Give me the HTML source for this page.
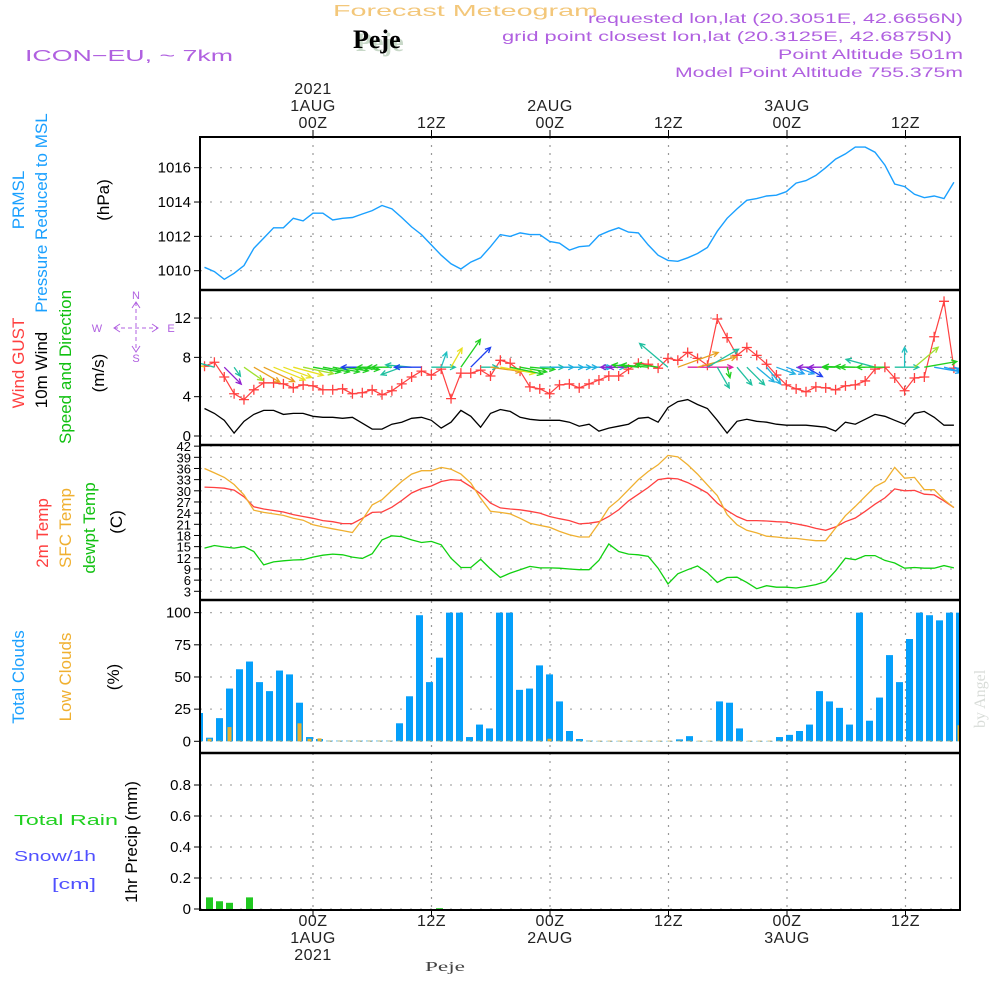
<!DOCTYPE html>
<html><head><meta charset="utf-8"><title>Forecast Meteogram Peje</title>
<style>
html,body{margin:0;padding:0;background:#fff;}
svg{display:block;}
text{font-family:"Liberation Sans",sans-serif;}
.nar{font-family:"Liberation Sans Narrow","Liberation Sans",sans-serif;}
</style></head>
<body>
<svg id="chart" width="1000" height="1000" viewBox="0 0 1000 1000" xmlns="http://www.w3.org/2000/svg">
<rect x="0" y="0" width="1000" height="1000" fill="#fff"/>
<!-- header -->
<text x="333" y="16" font-size="16" fill="#f3c77a" textLength="265" lengthAdjust="spacingAndGlyphs">Forecast Meteogram</text>
<text x="356" y="51" font-size="26" font-weight="bold" fill="#c8d8c8" style="font-family:'Liberation Serif',serif">Peje</text>
<text x="353" y="48" font-size="26" font-weight="bold" fill="#000" style="font-family:'Liberation Serif',serif">Peje</text>
<text x="25" y="61" font-size="16" fill="#b060e0" textLength="208" lengthAdjust="spacingAndGlyphs">ICON−EU, ~ 7km</text>
<text x="588" y="23" font-size="14" fill="#b060e0" textLength="375" lengthAdjust="spacingAndGlyphs">requested lon,lat (20.3051E, 42.6656N)</text>
<text x="502" y="41" font-size="14" fill="#b060e0" textLength="450" lengthAdjust="spacingAndGlyphs">grid point closest lon,lat (20.3125E, 42.6875N)</text>
<text x="778" y="59" font-size="14" fill="#b060e0" textLength="185" lengthAdjust="spacingAndGlyphs">Point Altitude 501m</text>
<text x="675" y="77" font-size="14" fill="#b060e0" textLength="288" lengthAdjust="spacingAndGlyphs">Model Point Altitude 755.375m</text>
<text x="425" y="971" font-size="14" fill="#444" style="font-family:'Liberation Serif',serif" textLength="40" lengthAdjust="spacingAndGlyphs">Peje</text>
<text transform="translate(985,728) rotate(-90)" font-size="16" fill="#d8dcd8" style="font-family:'Liberation Serif',serif">by Angel</text>

<!-- left axis titles -->
<g class="nar" font-size="17">
<text transform="translate(24,200) rotate(-90)" text-anchor="middle" fill="#1aa0ff">PRMSL</text>
<text transform="translate(47,213) rotate(-90)" text-anchor="middle" fill="#1aa0ff">Pressure Reduced to MSL</text>
<text transform="translate(109,200) rotate(-90)" text-anchor="middle" fill="#000">(hPa)</text>
<text transform="translate(24,363) rotate(-90)" text-anchor="middle" fill="#ff4040">Wind GUST</text>
<text transform="translate(47,370) rotate(-90)" text-anchor="middle" fill="#000">10m Wind</text>
<text transform="translate(71,367) rotate(-90)" text-anchor="middle" fill="#10c010">Speed and Direction</text>
<text transform="translate(104,373) rotate(-90)" text-anchor="middle" fill="#000">(m/s)</text>
<text transform="translate(48,533) rotate(-90)" text-anchor="middle" fill="#ff4040">2m Temp</text>
<text transform="translate(71,528) rotate(-90)" text-anchor="middle" fill="#f0b030">SFC Temp</text>
<text transform="translate(95,528) rotate(-90)" text-anchor="middle" fill="#10c010">dewpt Temp</text>
<text transform="translate(122,522) rotate(-90)" text-anchor="middle" fill="#000">(C)</text>
<text transform="translate(24,677) rotate(-90)" text-anchor="middle" fill="#1aa0ff">Total Clouds</text>
<text transform="translate(71,677) rotate(-90)" text-anchor="middle" fill="#f0b030">Low Clouds</text>
<text transform="translate(119,677) rotate(-90)" text-anchor="middle" fill="#000">(%)</text>
<text transform="translate(137,842) rotate(-90)" text-anchor="middle" fill="#000">1hr Precip (mm)</text>
</g>
<text x="14" y="825" font-size="15" fill="#20d020" textLength="104" lengthAdjust="spacingAndGlyphs">Total   Rain</text>
<text x="14" y="861" font-size="15" fill="#5050ff" textLength="82" lengthAdjust="spacingAndGlyphs">Snow/1h</text>
<text x="52" y="889" font-size="15" fill="#5050ff" textLength="44" lengthAdjust="spacingAndGlyphs">[cm]</text>

<!-- compass -->
<g stroke="#b060e0" stroke-width="1" fill="none">
<line x1="136" y1="302" x2="136" y2="352" stroke-dasharray="4,3"/>
<line x1="114" y1="328" x2="158" y2="328" stroke-dasharray="4,3"/>
<polyline points="132,308 136,302 140,308"/>
<polyline points="132,346 136,352 140,346"/>
<polyline points="120,324 114,328 120,332"/>
<polyline points="152,324 158,328 152,332"/>
</g>
<g font-size="11" fill="#b060e0" text-anchor="middle">
<text x="136" y="299">N</text>
<text x="136" y="362">S</text>
<text x="97" y="332">W</text>
<text x="171" y="332">E</text>
</g>

<g id="grid"></g>
<g id="marks"></g>
<g id="frame"></g>
<g id="labels"></g>
</svg>
<script>
// ---------- data ----------
const hours = [];
for (let h = -11; h <= 65; h++) hours.push(h);
const timeTicks = [0, 12, 24, 36, 48, 60];
const timeTopLabels = [["2021","1AUG","00Z"],["12Z"],["2AUG","00Z"],["12Z"],["3AUG","00Z"],["12Z"]];
const timeBottomLabels = [["00Z","1AUG","2021"],["12Z"],["00Z","2AUG"],["12Z"],["00Z","3AUG"],["12Z"]];

const pressure = [1010.2,1009.95,1009.5,1009.85,1010.3,1011.3,1011.9,1012.5,1012.5,1013.05,1012.9,1013.35,1013.35,1012.95,1013.05,1013.1,1013.3,1013.5,1013.8,1013.6,1013.1,1012.55,1012.1,1011.5,1010.9,1010.4,1010.1,1010.5,1010.75,1011.4,1012.1,1012.0,1012.2,1012.1,1012.1,1011.7,1011.6,1011.2,1011.4,1011.45,
1012.05,1012.3,1012.5,1012.25,1012.2,1011.5,1010.9,1010.6,1010.55,1010.75,1011.0,1011.35,1012.3,1013.05,1013.6,1014.1,1014.2,1014.35,1014.4,1014.6,1015.1,1015.25,1015.55,1016.0,1016.5,1016.8,1017.2,1017.2,1016.9,1016.15,1015.05,1014.9,1014.45,1014.25,1014.35,1014.2,1015.15];
const pressureTicks = [1010,1012,1014,1016];

const wind10m = [2.8,2.3,1.6,0.3,1.5,2.2,2.6,2.6,2.2,2.3,2.3,2.0,1.9,1.9,1.8,1.9,1.3,0.7,0.7,1.2,1.4,1.8,1.9,1.6,0.8,1.4,2.6,2.0,0.9,2.3,2.7,2.5,1.9,1.7,1.6,1.6,1.6,1.4,1.0,1.2,
0.5,0.8,1.0,1.2,1.8,1.9,1.4,2.9,3.5,3.7,3.2,2.8,1.6,0.3,1.5,1.7,1.5,1.4,1.2,1.1,1.1,1.1,1.0,0.9,0.5,1.4,1.2,1.7,2.2,2.0,1.6,1.2,2.3,2.5,1.9,1.1,1.1];
const windGust = [7.1,7.5,6.0,4.3,3.7,4.7,5.4,5.4,5.3,4.9,5.2,5.1,4.7,4.7,4.8,4.3,4.4,4.7,4.2,4.6,5.3,6.0,6.6,6.2,6.8,3.8,6.4,6.4,6.7,6.1,7.7,7.4,6.6,5.0,4.8,4.3,5.2,5.3,4.9,5.3,
5.7,6.1,6.1,6.8,7.4,7.3,6.9,7.9,7.7,8.5,7.9,7.2,11.9,10.0,8.2,9.0,8.2,7.3,6.2,5.2,4.8,4.5,5.0,4.9,4.7,5.1,5.2,5.6,6.8,7.0,5.9,4.6,5.9,6.0,10.1,13.7,6.9];
// arrow screen direction (deg, 0 = pointing right, 90 = pointing down)
const windDir = [-160,-165,45,55,35,30,25,22,20,15,12,10,10,10,8,5,180,180,180,180,160,185,180,0,-70,-60,-55,-45,0,8,10,12,10,5,0,0,0,0,0,0,
0,0,180,180,185,185,188,-140,-20,0,-15,-30,60,75,50,45,40,50,20,20,20,30,180,180,180,182,182,180,-165,180,0,-90,-40,-10,10,15,15];
const windColor = ["#e8e020","#20c0a0","#9020d0","#20c0a0","#a0e030","#e8a020","#e8a020","#e8e020","#e8e020","#e8e020","#a0e030","#20d020","#20d020","#20d020","#20d020","#20d020","#2040f0","#20d020","#20d020","#20d020","#20c0a0","#20c0a0","#2040f0","#20c0a0","#20c0c0","#e8e020","#20d020","#2040f0","#20c0a0","#e8a020","#e8e020","#20d020","#20d020","#20d020","#20c0a0","#20b0e0","#20b0e0","#20b0e0","#20b0e0","#20b0e0",
"#20b0e0","#20b0e0","#9020d0","#9020d0","#20d020","#20d020","#20d020","#20c0a0","#e8a020","#e020a0","#e8a020","#20c0a0","#20c0a0","#20d020","#20c0a0","#20c0a0","#20b0e0","#20b0e0","#20b0e0","#20a0f0","#20a0f0","#2040f0","#9020d0","#9020d0","#20d020","#20d020","#20d020","#20d020","#20c0a0","#20d020","#20c0a0","#20c0c0","#a0e030","#20d020","#20a0f0","#20a0f0","#20a0f0"];
const windTicks = [0,4,8,12];

const temp2m = [31.0,30.9,30.7,30.2,28.4,25.7,25.1,24.7,24.3,23.6,23.1,22.6,22.0,21.7,21.2,21.2,22.6,24.2,24.3,25.6,27.4,29.4,30.6,31.3,32.5,33.0,32.8,31.1,29.2,26.7,25.4,25.1,24.9,24.5,24.0,23.1,22.5,22.0,21.1,
21.3,21.7,23.1,24.9,27.3,29.1,30.9,33.0,33.4,33.2,32.2,30.9,29.4,26.7,24.7,23.1,22.0,22.0,21.9,21.7,21.6,21.1,20.6,19.9,19.4,20.3,21.7,22.7,24.5,26.4,28.1,30.5,30.0,30.1,29.1,28.9,27.3,25.5];
const tempSfc = [36.0,34.8,33.6,31.7,28.9,24.8,24.2,23.8,23.4,22.6,22.1,20.9,20.3,19.8,19.3,18.8,22.2,26.2,27.6,30.1,32.5,34.5,35.4,35.4,36.3,35.8,34.5,32.1,28.0,24.5,24.2,23.8,22.6,21.3,20.7,20.2,19.1,18.2,17.6,
17.6,21.3,25.4,27.6,30.3,33.0,35.2,37.0,39.5,39.1,37.0,34.5,31.6,28.7,23.6,20.9,19.4,18.7,17.8,17.6,17.3,17.2,16.9,16.6,16.6,20.0,23.3,25.8,28.5,31.1,32.5,36.3,33.4,33.6,30.3,30.3,27.6,25.5];
const dewpoint = [14.6,15.3,14.9,14.6,15.0,13.7,10.1,10.9,11.2,11.4,11.5,12.2,12.7,13.0,12.8,12.2,11.8,13.1,16.8,17.9,17.7,16.8,16.1,16.4,15.5,11.9,9.4,9.4,11.6,9.0,6.7,7.9,8.8,9.7,9.3,9.3,9.2,9.0,8.8,
8.8,11.3,15.7,13.7,13.0,12.8,12.4,9.2,5.0,7.7,8.8,9.8,8.0,5.4,6.7,6.8,5.4,3.7,4.5,4.1,4.1,3.9,4.3,4.8,5.6,8.5,11.9,11.5,12.6,12.6,11.3,10.6,9.2,9.4,9.2,9.2,9.9,9.3];
const tempTicks = [3,6,9,12,15,18,21,24,27,30,33,36,39,42];

const totalClouds = [22,2.8,18,41,56,62,46,39,55,52,30,3.3,1.8,0.5,0.5,0.5,0.5,0.5,0.5,0.5,14,35,98,46,65,100,100,3.3,13,10,100,100,40,41,59,52,31,8,1.8,0.5,
0.3,0.3,0.3,0.3,0.3,0.3,0.3,0.3,1.5,4,0.3,0.3,31,30,10,0.3,0.3,0.3,3.3,5,8,13,39,31,26,13,100,16,34,67,46,79.5,100,98,94,100,100];
const lowClouds = [0,1.5,0,10.6,0,0,0,0,0,0,13.5,1.5,1.8,0,0,0,0,0,0,0,0,0,0,0,0,0,0,0,0,0,0,0,0,0,0,1.5,0,0,0,0,
0,0,0,0,0,0,0,0,0,0,0,0,0,0,0,0,0,0,0,0,0,0,0,0,0,0,0,0,0,0,0,0,0,0,0,0,12];
const cloudTicks = [0,25,50,75,100];

const precip = [0,0.075,0.05,0.04,0,0.075,0,0,0,0,0,0,0,0,0,0,0,0,0,0,0,0,0,0,0.005,0,0,0,0,0,0,0,0,0,0,0,0,0,0,0,
0,0,0,0,0,0,0,0,0,0,0,0,0,0,0,0,0,0,0,0,0,0,0,0,0,0,0,0,0,0,0,0,0,0,0,0,0];
const precipTicks = [0,0.2,0.4,0.6,0.8];
const precipTickLabels = ["0","0.2","0.4","0.6","0.8"];

// ---------- scales ----------
const X0 = 200, X1 = 960;
const panels = [[137,290],[290,445],[445,600],[600,753],[753,910]];
function xT(t){ return 313 + t*9.86; }
function xB(k){ return 199.5 + k*10; }
function yP(p){ return 270.7 - (p-1010)*17.17; }
function yW(v){ return 436 - v*9.83; }
function yT(v){ return 591.3 - (v-3)*3.722; }
function yC(c){ return 741.3 - c*1.2865; }
function yR(r){ return 909 - r*155; }
const xTick = [313,431.5,550,668.5,787,905.5];
function xTickAt(i){ return 313 + timeTicks[i]*9.875; }

const NS = "http://www.w3.org/2000/svg";
function mk(tag, attrs, parent){
  const e = document.createElementNS(NS, tag);
  for (const k in attrs) e.setAttribute(k, attrs[k]);
  parent.appendChild(e);
  return e;
}
const grid = document.getElementById('grid');
const marks = document.getElementById('marks');
const frame = document.getElementById('frame');
const labels = document.getElementById('labels');

// defs: clip
const defs = mk('defs', {}, document.getElementById('chart'));
const cp = mk('clipPath', {id:'plotclip'}, defs);
mk('rect', {x:X0, y:137, width:X1-X0, height:773}, cp);
marks.setAttribute('clip-path', 'url(#plotclip)');

// vertical grid
timeTicks.forEach((t,i)=>{
  const x = xTickAt(i);
  const l = mk('line', {x1:x, y1:137, x2:x, y2:910, stroke:'#999', 'stroke-width':1.2, 'stroke-dasharray':'2,6'}, grid);
  
  
});
// horizontal grids + y tick labels
function hgrid(vals, yfn, txt, name, fs){
  vals.forEach((v,i)=>{
    const y = yfn(v);
    const g = mk('line', {x1:X0, y1:y, x2:X1, y2:y, stroke:'#aaa', 'stroke-width':1.2, 'stroke-dasharray':'2,8'}, grid);
    
    
    const tk = mk('line', {x1:X0-6, y1:y, x2:X0, y2:y, stroke:'#000', 'stroke-width':1}, frame);
    
    
    const tx = mk('text', {x:X0-9, y:y+5, 'font-size':fs, 'text-anchor':'end', fill:'#000'}, labels);
    tx.textContent = txt ? txt[i] : String(v);
    
    
  });
}
hgrid(pressureTicks, yP, null, 'pressure', 15);
hgrid(windTicks, yW, null, 'wind', 15);
hgrid(tempTicks, yT, null, 'temp', 13);
hgrid(cloudTicks, yC, null, 'cloud', 15);
hgrid(precipTicks, yR, precipTickLabels, 'precip', 15);

// lines
function line(vals, yfn, color, name, w){
  const pts = vals.map((v,i)=> xT(hours[i]).toFixed(1)+','+yfn(v).toFixed(1)).join(' ');
  const pl = mk('polyline', {points:pts, fill:'none', stroke:color, 'stroke-width':w||1.3}, marks);
  
  
}
line(pressure, yP, '#1aa0ff', 'pressure-line', 1.4);
line(wind10m, yW, '#000', 'wind-10m-line', 1.3);
line(windGust, yW, '#ff4040', 'wind-gust-line', 1.2);
windGust.forEach((v,i)=>{
  const x = xT(hours[i]), y = yW(v);
  const p = mk('path', {d:`M${x-5},${y}H${x+5}M${x},${y-5}V${y+5}`, stroke:'#ff4040', 'stroke-width':1.3}, marks);
  
  
});
// wind arrows
const arrowY = yW(7);
windDir.forEach((a,i)=>{
  const x = xT(hours[i]);
  const len = 8 + 10*wind10m[i];
  const r = a*Math.PI/180;
  const x2 = x + len*Math.cos(r), y2 = arrowY + len*Math.sin(r);
  const h1 = r + Math.PI - 0.45, h2 = r + Math.PI + 0.45;
  const d = `M${x},${arrowY}L${x2},${y2}M${x2+6*Math.cos(h1)},${y2+6*Math.sin(h1)}L${x2},${y2}L${x2+6*Math.cos(h2)},${y2+6*Math.sin(h2)}`;
  const p = mk('path', {d:d, stroke:windColor[i], 'stroke-width':1.3, fill:'none'}, marks);
  
  
});
line(temp2m, yT, '#ff4040', 'temp-2m-line', 1.3);
line(tempSfc, yT, '#f0b030', 'temp-sfc-line', 1.3);
line(dewpoint, yT, '#10d010', 'dewpoint-line', 1.3);

// cloud bars
totalClouds.forEach((v,k)=>{
  const x = xB(k);
  const r = mk('rect', {x:x-3.5, y:yC(v), width:7, height:yC(0)-yC(v), fill:'#049ffa'}, marks);
  
  
});
lowClouds.forEach((v,k)=>{
  const x = xB(k);
  const r = mk('rect', {x:x-2, y:yC(v)-0.6, width:4, height:yC(0)-yC(v)+0.6, fill:'#e8b030'}, marks);
  
  
});
precip.forEach((v,k)=>{
  if (v<=0) return;
  const x = xB(k);
  const r = mk('rect', {x:x-3.5, y:yR(v), width:7, height:yR(0)-yR(v), fill:'#20c820'}, marks);
  
  
});

// frame
const fr = mk('rect', {x:X0, y:137, width:X1-X0, height:773, fill:'none', stroke:'#000', 'stroke-width':2}, frame);


[290,445,600,753].forEach(y=>{
  const l = mk('line', {x1:X0, y1:y, x2:X1, y2:y, stroke:'#000', 'stroke-width':2.5}, frame);
  
  
});
// time ticks + labels
timeTicks.forEach((t,i)=>{
  const x = xTickAt(i);
  const a = mk('line', {x1:x, y1:130, x2:x, y2:137, stroke:'#000'}, frame);
  
  
  const b = mk('line', {x1:x, y1:910, x2:x, y2:917, stroke:'#000'}, frame);
  
  
  const top = timeTopLabels[i];
  top.forEach((s,j)=>{
    const tx = mk('text', {x:x, y:128 - (top.length-1-j)*17, 'font-size':16, 'text-anchor':'middle', fill:'#222', 'letter-spacing':'0.5'}, labels);
    tx.textContent = s;
    
    
  });
  timeBottomLabels[i].forEach((s,j)=>{
    const tx = mk('text', {x:x, y:926 + j*17, 'font-size':16, 'text-anchor':'middle', fill:'#222', 'letter-spacing':'0.5'}, labels);
    tx.textContent = s;
    
    
  });
});
</script>
</body></html>
